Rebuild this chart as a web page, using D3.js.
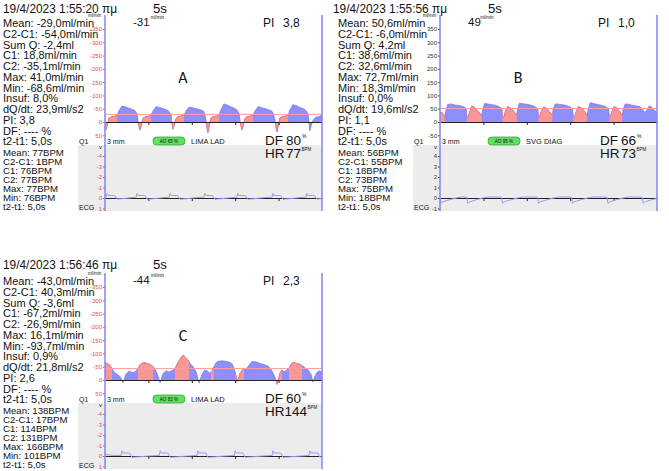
<!DOCTYPE html>
<html>
<head>
<meta charset="utf-8">
<script src="https://cdn.jsdelivr.net/npm/d3@7"></script>
<style>
  body { margin: 0; background: #fff; }
  text { font-family: Arial, "Liberation Sans", sans-serif; }
</style>
</head>
<body>
<script>
// flow samples [seconds, ml/min]
const flowA = [[0.00,18],[0.02,30],[0.07,0],[0.09,-14],[0.14,-19],[0.21,-21],[0.28,-25],[0.32,-42],[0.39,-60],[0.46,-57],[0.55,-52],[0.65,-46],[0.69,-42],[0.74,-30],[0.76,0],[0.81,30],[0.85,0],[0.88,-14],[0.92,-19],[0.99,-21],[1.06,-25],[1.11,-42],[1.18,-58],[1.24,-55],[1.34,-50],[1.43,-45],[1.47,-40],[1.52,-28],[1.54,0],[1.57,27],[1.61,0],[1.64,-14],[1.68,-20],[1.75,-22],[1.82,-25],[1.87,-42],[1.94,-56],[2.00,-54],[2.10,-50],[2.19,-46],[2.26,-42],[2.30,-30],[2.33,0],[2.37,40],[2.42,0],[2.44,-15],[2.49,-20],[2.56,-22],[2.63,-26],[2.67,-45],[2.74,-68],[2.81,-64],[2.90,-57],[3.00,-50],[3.04,-45],[3.09,-32],[3.11,0],[3.16,30],[3.20,0],[3.23,-14],[3.27,-20],[3.34,-22],[3.41,-25],[3.46,-42],[3.53,-58],[3.59,-55],[3.69,-50],[3.78,-45],[3.85,-40],[3.89,-28],[3.92,0],[3.96,37],[4.01,0],[4.03,-15],[4.08,-20],[4.15,-22],[4.22,-26],[4.26,-45],[4.33,-65],[4.40,-62],[4.49,-55],[4.59,-48],[4.63,-42],[4.68,-30],[4.70,0],[4.72,33],[4.77,0],[4.82,-12],[4.86,-18],[4.93,-20],[5.00,-27]];
const flowB = [[0.00,38],[0.05,35],[0.09,25],[0.11,20],[0.14,45],[0.18,66],[0.25,68],[0.34,64],[0.44,62],[0.53,58],[0.60,52],[0.62,20],[0.64,15],[0.69,40],[0.73,60],[0.80,55],[0.87,42],[0.94,28],[0.96,22],[0.99,50],[1.03,70],[1.10,68],[1.19,65],[1.28,63],[1.35,58],[1.42,52],[1.44,20],[1.47,18],[1.51,42],[1.56,58],[1.63,52],[1.70,40],[1.77,25],[1.79,50],[1.83,71],[1.90,69],[2.00,66],[2.09,64],[2.18,58],[2.25,50],[2.27,22],[2.29,18],[2.34,42],[2.39,57],[2.45,52],[2.52,40],[2.59,24],[2.61,50],[2.66,68],[2.73,67],[2.82,65],[2.91,62],[3.00,56],[3.05,50],[3.07,20],[3.10,18],[3.14,40],[3.19,58],[3.26,53],[3.33,40],[3.39,25],[3.42,50],[3.46,72],[3.53,70],[3.62,66],[3.72,63],[3.81,58],[3.88,50],[3.90,22],[3.92,18],[3.97,42],[4.01,58],[4.08,52],[4.15,38],[4.20,25],[4.22,48],[4.27,68],[4.33,67],[4.43,63],[4.52,60],[4.61,58],[4.68,45],[4.72,35],[4.77,45],[4.82,60],[4.86,58],[4.93,45],[5.00,35]];
const flowC = [[0.00,-65],[0.05,-62],[0.12,-55],[0.16,-42],[0.21,-30],[0.28,-22],[0.35,-12],[0.39,0],[0.41,10],[0.44,0],[0.48,-22],[0.55,-32],[0.60,-30],[0.67,-28],[0.71,-35],[0.76,-42],[0.81,-58],[0.88,-65],[0.94,-64],[1.01,-60],[1.08,-55],[1.11,-50],[1.15,-40],[1.20,-25],[1.24,-5],[1.27,10],[1.29,0],[1.34,-25],[1.41,-35],[1.47,-30],[1.54,-35],[1.61,-42],[1.68,-65],[1.75,-85],[1.80,-93],[1.84,-88],[1.91,-75],[1.96,-62],[2.03,-50],[2.10,-30],[2.14,-5],[2.17,12],[2.19,0],[2.24,-22],[2.30,-38],[2.35,-35],[2.42,-25],[2.47,-35],[2.51,-50],[2.56,-65],[2.60,-70],[2.70,-72],[2.79,-70],[2.88,-66],[2.93,-60],[2.97,-45],[3.02,-15],[3.04,5],[3.06,0],[3.11,-25],[3.18,-40],[3.23,-38],[3.27,-45],[3.34,-60],[3.39,-70],[3.48,-68],[3.57,-62],[3.66,-58],[3.76,-52],[3.82,-42],[3.89,-20],[3.94,0],[3.96,16],[3.99,0],[4.03,-25],[4.08,-38],[4.12,-30],[4.17,-35],[4.24,-45],[4.29,-60],[4.33,-66],[4.40,-63],[4.47,-60],[4.54,-55],[4.61,-45],[4.68,-38],[4.75,-20],[4.79,8],[4.84,-15],[4.88,-28],[4.95,-35],[5.00,-25]];

// time spans (s) drawn in red
const redA = [[0,0.28],[0.76,1.06],[1.52,1.82],[2.33,2.63],[3.11,3.41],[3.92,4.22]];
const redB = [[0,0.11],[0.62,0.96],[1.44,1.77],[2.27,2.59],[3.07,3.39],[3.90,4.20]];
const redC = [[0,0.16],[0.76,1.11],[1.61,1.94],[2.44,2.51],[3.00,3.20],[3.94,4.08],[4.24,4.54]];

// ecg samples [seconds, volts]
const ecgA = [[0.00,-0.12],[0.03,-0.12],[0.05,-0.45],[0.07,-0.25],[0.23,-0.22],[0.28,0.1],[0.44,0.05],[0.62,-0.04],[0.72,-0.08],[0.74,-0.45],[0.76,-0.25],[0.92,-0.22],[0.97,0.12],[1.13,0.06],[1.36,-0.04],[1.48,-0.08],[1.50,-0.45],[1.52,-0.25],[1.68,-0.22],[1.73,0.12],[1.89,0.06],[2.12,-0.04],[2.28,-0.08],[2.30,-0.45],[2.32,-0.25],[2.48,-0.22],[2.53,0.12],[2.69,0.06],[2.92,-0.04],[3.04,-0.08],[3.06,-0.45],[3.08,-0.25],[3.24,-0.22],[3.29,0.12],[3.45,0.06],[3.68,-0.04],[3.85,-0.08],[3.87,-0.45],[3.89,-0.25],[4.05,-0.22],[4.10,0.12],[4.26,0.06],[4.49,-0.04],[4.63,-0.08],[4.65,-0.45],[4.67,-0.25],[4.83,-0.22],[4.88,0.1],[5.00,0.05]];
const ecgB = [[0.00,0.05],[0.02,-0.5],[0.07,-0.35],[0.23,-0.15],[0.37,0.0],[0.50,0.1],[0.60,0.08],[0.62,0.05],[0.64,-0.5],[0.69,-0.35],[0.85,-0.15],[0.99,0.0],[1.12,0.1],[1.40,0.08],[1.42,0.05],[1.44,-0.5],[1.49,-0.35],[1.65,-0.15],[1.79,0.0],[1.92,0.1],[2.23,0.08],[2.25,0.05],[2.27,-0.5],[2.32,-0.35],[2.48,-0.15],[2.62,0.0],[2.75,0.1],[3.01,0.08],[3.03,0.05],[3.05,-0.5],[3.10,-0.35],[3.26,-0.15],[3.40,0.0],[3.53,0.1],[3.83,0.08],[3.85,0.05],[3.87,-0.5],[3.92,-0.35],[4.08,-0.15],[4.22,0.0],[4.35,0.1],[4.64,0.08],[4.66,0.05],[4.68,-0.5],[4.73,-0.35],[4.89,-0.15],[5.00,-0.05]];
const ecgC = [[0.00,-0.15],[0.20,-0.05],[0.37,-0.05],[0.39,-0.5],[0.41,-0.3],[0.57,-0.28],[0.62,0.12],[0.78,0.08],[1.00,0.0],[1.25,-0.05],[1.27,-0.5],[1.29,-0.3],[1.45,-0.28],[1.50,0.12],[1.66,0.08],[1.90,0.0],[2.12,-0.05],[2.14,-0.5],[2.16,-0.3],[2.32,-0.28],[2.37,0.12],[2.53,0.08],[2.76,0.0],[2.98,-0.05],[3.00,-0.5],[3.02,-0.3],[3.18,-0.28],[3.23,0.12],[3.39,0.08],[3.62,0.0],[3.85,-0.05],[3.87,-0.5],[3.89,-0.3],[4.05,-0.28],[4.10,0.12],[4.26,0.08],[4.50,0.0],[4.70,-0.05],[4.72,-0.5],[4.74,-0.3],[4.90,-0.28],[4.95,0.1],[5.00,0.08]];

// text readouts
const statsA = ["Mean: -29,0ml/min","C2-C1: -54,0ml/min","Sum Q: -2,4ml","C1: 18,8ml/min","C2: -35,1ml/min","Max: 41,0ml/min","Min: -68,6ml/min","Insuf: 8,0%","dQ/dt: 23,9ml/s2","PI: 3,8","DF: ---- %","t2-t1: 5,0s"];
const statsB = ["Mean: 50,6ml/min","C2-C1: -6,0ml/min","Sum Q: 4,2ml","C1: 38,6ml/min","C2: 32,6ml/min","Max: 72,7ml/min","Min: 18,3ml/min","Insuf: 0,0%","dQ/dt: 19,6ml/s2","PI: 1,1","DF: ---- %","t2-t1: 5,0s"];
const statsC = ["Mean: -43,0ml/min","C2-C1: 40,3ml/min","Sum Q: -3,6ml","C1: -67,2ml/min","C2: -26,9ml/min","Max: 16,1ml/min","Min: -93,7ml/min","Insuf: 0,9%","dQ/dt: 21,8ml/s2","PI: 2,6","DF: ---- %","t2-t1: 5,0s"];
const bpmA = ["Mean: 77BPM","C2-C1: 1BPM","C1: 76BPM","C2: 77BPM","Max: 77BPM","Min: 76BPM","t2-t1: 5,0s"];
const bpmB = ["Mean: 56BPM","C2-C1: 55BPM","C1: 18BPM","C2: 73BPM","Max: 75BPM","Min: 18BPM","t2-t1: 5,0s"];
const bpmC = ["Mean: 138BPM","C2-C1: 17BPM","C1: 114BPM","C2: 131BPM","Max: 166BPM","Min: 101BPM","t2-t1: 5,0s"];

const letters = ["A", "B", "C"];
const titles = ["19/4/2023 1:55:20 πμ", "19/4/2023 1:55:56 πμ", "19/4/2023 1:56:46 πμ"];
const meanFlow = [-29.0, 50.6, -43.0];
const meanShown = ["-31", "49", "-44"];
const piShown = ["3,8", "1,0", "2,3"];
const dfShown = ["80", "66", "60"];
const hrShown = ["77", "73", "144"];
const sites = ["LIMA LAD", "SVG DIAG", "LIMA LAD"];
const aoShown = ["AO 65 %", "AO 95 %", "AO 83 %"];
const flowTicks = [-50, 0, 50, 100, 150, 200, 250, 300, 350];
const ecgTicks = [-1, 0, 1, 2, 3, 4];
const secTicks = [1, 2, 3, 4];

const panels = [
  {i: 0, dx: 0, dy: 0, titleX: 3, titleY: 12.5, inv: true, flow: flowA, red: redA, ecg: ecgA, stats: statsA, bpm: bpmA},
  {i: 1, dx: 335, dy: 0, titleX: -2, titleY: 12.5, inv: false, flow: flowB, red: redB, ecg: ecgB, stats: statsB, bpm: bpmB},
  {i: 2, dx: 0, dy: 258, titleX: 3, titleY: 10.5, inv: true, flow: flowC, red: redC, ecg: ecgC, stats: statsC, bpm: bpmC}
];

const svg = d3.select("body").append("svg")
  .attr("width", 669)
  .attr("height", 471);

const blueFill = "#8e8efc", blueEdge = "#7676f0";
const redFill = "#f99696", redEdge = "#ee7a7a";
const frame = "#8585f2";

panels.forEach(p => {
  const g = svg.append("g").attr("transform", `translate(${p.dx},${p.dy})`);
  const s = p.inv ? -1 : 1;
  const labelColor = p.inv ? "#f04848" : "#333";

  const x = d3.scaleLinear().domain([0, 5]).range([105, 322]);
  const y = d3.scaleLinear().domain([0, 350 * s]).range([122, 29]);
  const ye = d3.scaleLinear().domain([0, 4 * s]).range([198, 156]);

  // ecg background
  g.append("rect").attr("x", 78).attr("y", 145).attr("width", 244).attr("height", 66).attr("fill", "#ececec");

  // red spans clip
  const clipId = "red" + letters[p.i];
  g.append("clipPath").attr("id", clipId)
    .selectAll("rect").data(p.red).join("rect")
    .attr("x", d => x(d[0])).attr("width", d => x(d[1]) - x(d[0]))
    .attr("y", 0).attr("height", 215);

  const area = d3.area().x(d => x(d[0])).y0(y(0)).y1(d => y(d[1]));
  const line = d3.line().x(d => x(d[0])).y(d => y(d[1]));

  g.append("path").datum(p.flow).attr("d", area).attr("fill", blueFill);
  g.append("path").datum(p.flow).attr("d", line).attr("fill", "none").attr("stroke", blueEdge).attr("stroke-width", 0.8);
  const rg = g.append("g").attr("clip-path", `url(#${clipId})`);
  rg.append("path").datum(p.flow).attr("d", area).attr("fill", redFill);
  rg.append("path").datum(p.flow).attr("d", line).attr("fill", "none").attr("stroke", redEdge).attr("stroke-width", 0.8);

  // mean line
  g.append("line")
    .attr("x1", 105).attr("x2", 322)
    .attr("y1", y(meanFlow[p.i])).attr("y2", y(meanFlow[p.i]))
    .attr("stroke", "#ff9c9c").attr("stroke-width", 1);

  // zero lines with second ticks
  [y, ye].forEach(sc => {
    const ax = g.append("g")
      .attr("transform", `translate(0,${sc(0)})`)
      .call(d3.axisBottom(x).tickValues(secTicks).tickSize(3).tickSizeOuter(0).tickFormat(""));
    ax.select(".domain").attr("stroke", "#222");
    ax.selectAll(".tick line").attr("stroke", "#222");
  });

  // ecg trace
  g.append("path").datum(p.ecg)
    .attr("d", d3.line().x(d => x(d[0])).y(d => ye(d[1])))
    .attr("fill", "none").attr("stroke", "#9a9aff").attr("stroke-width", 1);

  // y axes
  const fy = g.append("g").attr("transform", "translate(105,0)")
    .call(d3.axisLeft(y).tickValues(flowTicks.map(v => v * s)).tickSize(2).tickFormat(d => String(d)));
  const ey = g.append("g").attr("transform", "translate(105,0)")
    .call(d3.axisLeft(ye).tickValues(ecgTicks.map(v => v * s)).tickSize(2).tickFormat(d => String(d)));
  [fy, ey].forEach(ax => {
    ax.select(".domain").remove();
    ax.selectAll(".tick line").attr("stroke", labelColor);
    ax.selectAll(".tick text").attr("fill", labelColor).attr("font-size", 6).attr("x", -3)
      .style("font-family", "Arial, sans-serif");
  });

  // frame lines
  [105, 322].forEach(xx => {
    g.append("line").attr("x1", xx).attr("x2", xx).attr("y1", 15).attr("y2", 211)
      .attr("stroke", frame).attr("stroke-width", 1.5);
  });

  const txt = (tx, ty, str, size, len) => {
    const t = g.append("text").attr("x", tx).attr("y", ty).attr("font-size", size).attr("fill", "#111").text(str);
    if (len) t.attr("textLength", len).attr("lengthAdjust", "spacingAndGlyphs");
    return t;
  };

  // header
  txt(p.titleX, p.titleY, titles[p.i], 13, 114);
  txt(153, p.titleY, "5s", 13, 14);
  txt(88, 16.5, "ml/min", 4.5);
  txt(133, 26, meanShown[p.i], 11.5);
  txt(134 + meanShown[p.i].length * 5.6, 19, "ml/min", 4.5);
  txt(263, 26.5, "PI", 12);
  txt(283, 26.5, piShown[p.i], 12);
  txt(183, 82.5, letters[p.i], 16)
    .attr("text-anchor", "middle")
    .style("font-family", "Carlito, Calibri, 'Open Sans', sans-serif");

  // readouts
  p.stats.forEach((str, k) => txt(3, 27 + k * 10.75, str, 11));
  p.bpm.forEach((str, k) => txt(3, 155.5 + k * 9.1, str, 9.6));

  // probe row
  txt(79, 143.5, "Q1", 7);
  txt(107, 143.5, "3 mm", 7);
  g.append("rect").attr("x", 153).attr("y", 137).attr("width", 32).attr("height", 8).attr("rx", 3.5)
    .attr("fill", "#5fe05f").attr("stroke", "#2f9a2f").attr("stroke-width", 0.7);
  txt(169, 142.8, aoShown[p.i], 4.6).attr("text-anchor", "middle");
  txt(191, 143.5, sites[p.i], 7.5);
  txt(265, 145, "DF", 13.5);
  txt(286, 145, dfShown[p.i], 13.5);
  txt(302, 137.5, "%", 5);
  txt(265, 158, "HR", 13.5);
  const hrX = hrShown[p.i].length > 2 ? 284.5 : 286;
  const hrW = hrShown[p.i].length * 7.5;
  txt(hrX, 158, hrShown[p.i], 13.5);
  txt(hrX + hrW + 0.5, 150.5, "BPM", 4.5);

  txt(79, 209.5, "ECG", 7);
  txt(99, 149, "v", 6);
});
</script>
</body>
</html>
